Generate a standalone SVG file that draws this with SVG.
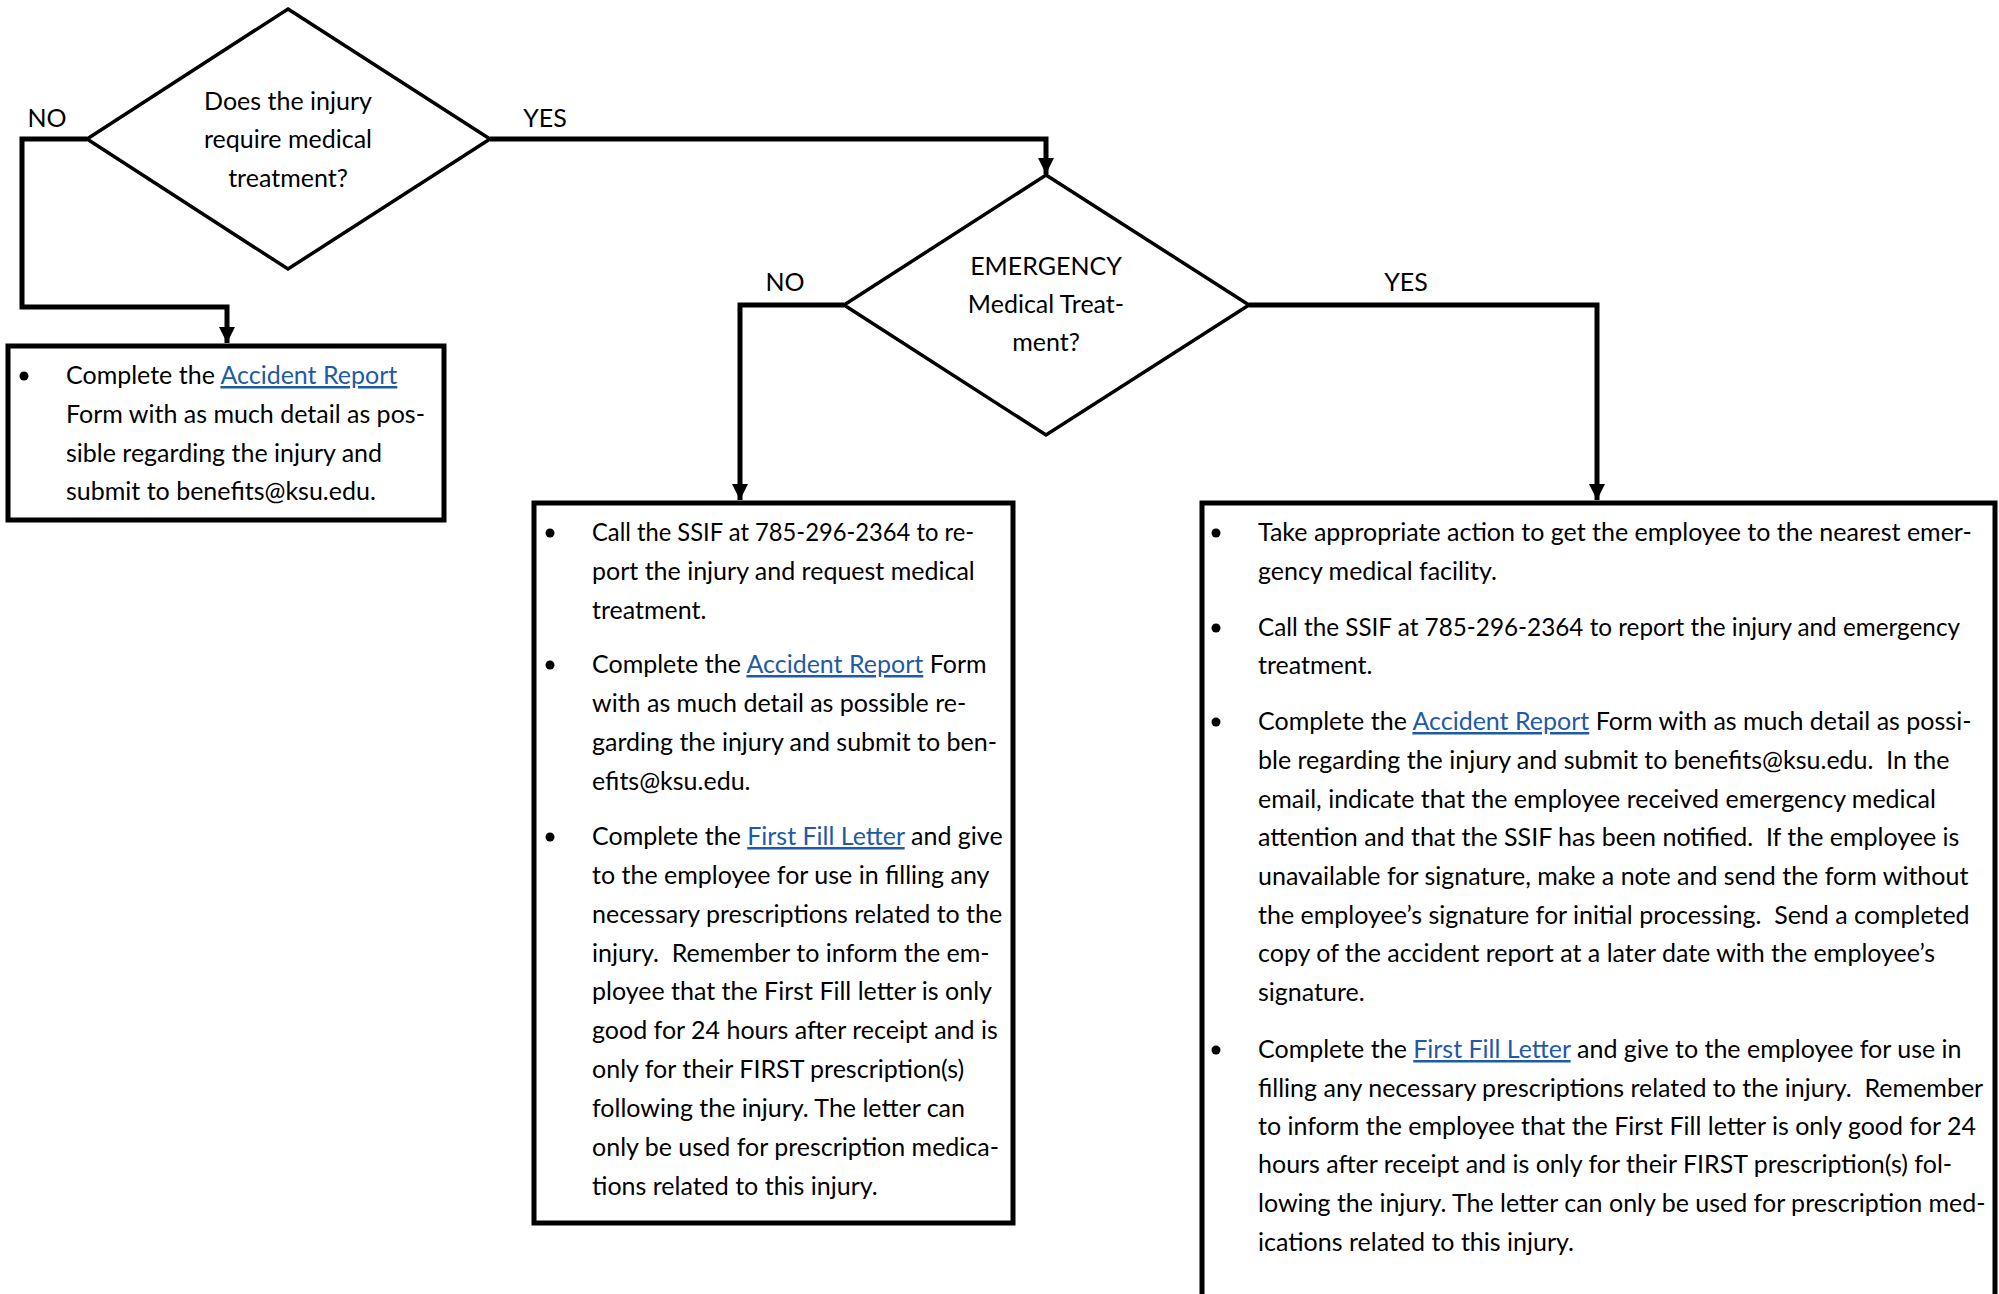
<svg xmlns="http://www.w3.org/2000/svg" width="1999" height="1294" viewBox="0 0 1999 1294">
<style>
text{font-family:Lato,"Liberation Sans",sans-serif;font-size:25px;fill:#000;white-space:pre}
.c{text-anchor:middle}
.lk{fill:#1f5aa6;text-decoration:underline}
.dia{fill:#fff;stroke:#000;stroke-width:3.5}
.box{fill:#fff;stroke:#000;stroke-width:5}
.con{fill:none;stroke:#000;stroke-width:5}
</style>
<defs>
<marker id="ah" viewBox="0 0 10 10" refX="10" refY="5" markerUnits="userSpaceOnUse" markerWidth="16" markerHeight="16" orient="auto">
<path d="M0,0 L10,5 L0,10 Z" fill="#000"/>
</marker>
</defs>
<rect width="1999" height="1294" fill="#fff"/>
<g id="connectors">
<polyline class="con" points="87,139 22,139 22,307 227,307 227,343" marker-end="url(#ah)"/>
<polyline class="con" points="490,139 1046,139 1046,174" marker-end="url(#ah)"/>
<polyline class="con" points="844,305 740,305 740,500" marker-end="url(#ah)"/>
<polyline class="con" points="1249,305 1597,305 1597,500" marker-end="url(#ah)"/>
<text x="47" y="127" class="c">NO</text>
<text x="545" y="127" class="c">YES</text>
<text x="785" y="291" class="c">NO</text>
<text x="1406" y="291" class="c">YES</text>
</g>
<g id="q1">
<polygon class="dia" points="288,9 490,139 288,269 87,139"/>
<text x="288" y="110" class="c">Does the injury</text>
<text x="288" y="148" class="c">require medical</text>
<text x="288" y="187" class="c">treatment?</text>
</g>
<g id="q2">
<polygon class="dia" points="1046,175 1249,305 1046,435 844,305"/>
<text x="1046" y="275" class="c">EMERGENCY</text>
<text x="1046" y="313" class="c">Medical Treat-</text>
<text x="1046" y="351" class="c">ment?</text>
</g>
<g id="box-no-treatment">
<rect class="box" x="8" y="346" width="436" height="174"/>
<circle cx="24" cy="376" r="4.5"/>
<text x="66" y="384">Complete the <tspan class="lk">Accident Report</tspan></text>
<text x="66" y="423">Form with as much detail as pos-</text>
<text x="66" y="462">sible regarding the injury and</text>
<text x="66" y="500">submit to benefits@ksu.edu.</text>
</g>
<g id="box-non-emergency">
<rect class="box" x="534" y="503" width="479" height="720"/>
<circle cx="550" cy="533" r="4.5"/>
<text x="592" y="541" textLength="382" lengthAdjust="spacingAndGlyphs">Call the SSIF at 785-296-2364 to re-</text>
<text x="592" y="580">port the injury and request medical</text>
<text x="592" y="619">treatment.</text>
<circle cx="550" cy="665" r="4.5"/>
<text x="592" y="673">Complete the <tspan class="lk">Accident Report</tspan> Form</text>
<text x="592" y="712">with as much detail as possible re-</text>
<text x="592" y="751">garding the injury and submit to ben-</text>
<text x="592" y="790">efits@ksu.edu.</text>
<circle cx="550" cy="837" r="4.5"/>
<text x="592" y="845">Complete the <tspan class="lk">First Fill Letter</tspan> and give</text>
<text x="592" y="884">to the employee for use in filling any</text>
<text x="592" y="923">necessary prescriptions related to the</text>
<text x="592" y="962">injury.  Remember to inform the em-</text>
<text x="592" y="1000">ployee that the First Fill letter is only</text>
<text x="592" y="1039">good for 24 hours after receipt and is</text>
<text x="592" y="1078">only for their FIRST prescription(s)</text>
<text x="592" y="1117">following the injury. The letter can</text>
<text x="592" y="1156">only be used for prescription medica-</text>
<text x="592" y="1195">tions related to this injury.</text>
</g>
<g id="box-emergency">
<rect class="box" x="1202" y="503" width="793" height="900"/>
<circle cx="1216" cy="533" r="4.5"/>
<text x="1258" y="541">Take appropriate action to get the employee to the nearest emer-</text>
<text x="1258" y="580">gency medical facility.</text>
<circle cx="1216" cy="628" r="4.5"/>
<text x="1258" y="636" textLength="702" lengthAdjust="spacingAndGlyphs">Call the SSIF at 785-296-2364 to report the injury and emergency</text>
<text x="1258" y="674">treatment.</text>
<circle cx="1216" cy="722" r="4.5"/>
<text x="1258" y="730">Complete the <tspan class="lk">Accident Report</tspan> Form with as much detail as possi-</text>
<text x="1258" y="769">ble regarding the injury and submit to benefits@ksu.edu.  In the</text>
<text x="1258" y="808">email, indicate that the employee received emergency medical</text>
<text x="1258" y="846">attention and that the SSIF has been notified.  If the employee is</text>
<text x="1258" y="885">unavailable for signature, make a note and send the form without</text>
<text x="1258" y="924">the employee’s signature for initial processing.  Send a completed</text>
<text x="1258" y="962">copy of the accident report at a later date with the employee’s</text>
<text x="1258" y="1001">signature.</text>
<circle cx="1216" cy="1050" r="4.5"/>
<text x="1258" y="1058">Complete the <tspan class="lk">First Fill Letter</tspan> and give to the employee for use in</text>
<text x="1258" y="1097">filling any necessary prescriptions related to the injury.  Remember</text>
<text x="1258" y="1135">to inform the employee that the First Fill letter is only good for 24</text>
<text x="1258" y="1173">hours after receipt and is only for their FIRST prescription(s) fol-</text>
<text x="1258" y="1212">lowing the injury. The letter can only be used for prescription med-</text>
<text x="1258" y="1251">ications related to this injury.</text>
</g>
</svg>
